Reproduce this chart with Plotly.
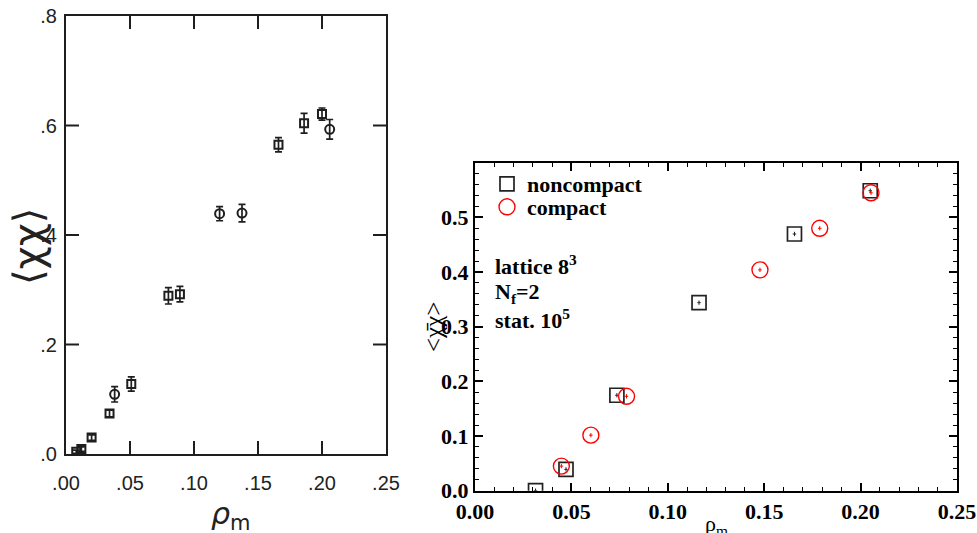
import plotly.graph_objects as go

# ---------------- Left panel (scanned, old data) ----------------
left_sq_x = [0.008, 0.012, 0.020, 0.034, 0.051, 0.080, 0.089, 0.166, 0.186, 0.200]
left_sq_y = [0.004, 0.009, 0.030, 0.074, 0.128, 0.289, 0.292, 0.565, 0.604, 0.621]
left_sq_err = [0.003, 0.004, 0.005, 0.006, 0.013, 0.015, 0.014, 0.013, 0.018, 0.011]

left_ci_x = [0.038, 0.120, 0.1375, 0.206]
left_ci_y = [0.109, 0.439, 0.440, 0.593]
left_ci_err = [0.014, 0.013, 0.016, 0.018]

left_xticks = [0.0, 0.05, 0.10, 0.15, 0.20, 0.25]
left_xlabels = [".00", ".05", ".10", ".15", ".20", ".25"]
left_yticks = [0.0, 0.2, 0.4, 0.6, 0.8]
left_ylabels = [".0", ".2", ".4", ".6", ".8"]

# ---------------- Right panel (new data) ----------------
nc_x = [0.0314, 0.0472, 0.0736, 0.1162, 0.1657, 0.2050]
nc_y = [0.000, 0.039, 0.1746, 0.344, 0.4696, 0.5487]
nc_yerr = [0.004, 0.004, 0.004, 0.004, 0.004, 0.004]
nc_xerr = [0.0009, 0.0009, 0.0009, 0.0009, 0.0009, 0.0009]

c_x = [0.0448, 0.0601, 0.0786, 0.1478, 0.1788, 0.2054]
c_y = [0.045, 0.1016, 0.1727, 0.404, 0.480, 0.545]
c_yerr = [0.004, 0.004, 0.004, 0.004, 0.004, 0.004]
c_xerr = [0.0009, 0.0009, 0.0009, 0.0009, 0.0009, 0.0009]

right_xticks = [0.0, 0.05, 0.10, 0.15, 0.20, 0.25]
right_xlabels = ["0.00", "0.05", "0.10", "0.15", "0.20", "0.25"]
right_yticks = [0.0, 0.1, 0.2, 0.3, 0.4, 0.5]
right_ylabels = ["0.0", "0.1", "0.2", "0.3", "0.4", "0.5"]

W, H = 977, 533
SCAN = "#1e1e1e"
SERIF = "Liberation Serif"
SANS = "Liberation Sans"

fig = go.Figure()

# left panel traces
fig.add_trace(go.Scatter(
    x=left_sq_x, y=left_sq_y, mode="markers", showlegend=False,
    marker=dict(symbol="square-open", size=8, color=SCAN, line=dict(width=2, color=SCAN)),
    error_y=dict(type="data", array=left_sq_err, color=SCAN, thickness=1.7, width=3.5),
    xaxis="x", yaxis="y"))
fig.add_trace(go.Scatter(
    x=left_ci_x, y=left_ci_y, mode="markers", showlegend=False,
    marker=dict(symbol="circle-open", size=9, color=SCAN, line=dict(width=2, color=SCAN)),
    error_y=dict(type="data", array=left_ci_err, color=SCAN, thickness=1.7, width=3.5),
    xaxis="x", yaxis="y"))

# right panel traces
fig.add_trace(go.Scatter(
    x=nc_x, y=nc_y, mode="markers", name="noncompact", legend="legend",
    marker=dict(symbol="square-open", size=14, color="#222222", line=dict(width=1.7, color="#222222")),
    error_y=dict(type="data", array=nc_yerr, color="#222222", thickness=1, width=0),
    error_x=dict(type="data", array=nc_xerr, color="#222222", thickness=1, width=0),
    xaxis="x2", yaxis="y2"))
fig.add_trace(go.Scatter(
    x=c_x, y=c_y, mode="markers", name="compact", legend="legend2",
    marker=dict(symbol="circle-open", size=16, color="#ff0000", line=dict(width=1.4, color="#ff0000")),
    error_y=dict(type="data", array=c_yerr, color="#ff0000", thickness=1, width=0),
    error_x=dict(type="data", array=c_xerr, color="#ff0000", thickness=1, width=0),
    xaxis="x2", yaxis="y2"))

L_x0, L_x1 = 66 / W, 386 / W
L_y0, L_y1 = (H - 454) / H, (H - 16) / H
R_x0, R_x1 = 475 / W, 957 / W
R_y0, R_y1 = (H - 490.7) / H, (H - 162.7) / H

# inward tick marks of the scanned left frame (all four sides)
L_w_px = (L_x1 - L_x0) * W
L_h_px = (L_y1 - L_y0) * H
tlen = 13
shapes = []
for t in left_xticks[1:-1]:
    shapes.append(dict(type="line", xref="x", yref="y domain", x0=t, x1=t, y0=0, y1=tlen / L_h_px,
                       line=dict(color=SCAN, width=2)))
    shapes.append(dict(type="line", xref="x", yref="y domain", x0=t, x1=t, y0=1, y1=1 - tlen / L_h_px,
                       line=dict(color=SCAN, width=2)))
for t in left_yticks[1:-1]:
    shapes.append(dict(type="line", xref="x domain", yref="y", x0=0, x1=tlen / L_w_px, y0=t, y1=t,
                       line=dict(color=SCAN, width=2)))
    shapes.append(dict(type="line", xref="x domain", yref="y", x0=1, x1=1 - tlen / L_w_px, y0=t, y1=t,
                       line=dict(color=SCAN, width=2)))

left_font = dict(family=SANS, size=20, color="#222222")
right_font = dict(family=SERIF, size=22, color="black", weight="bold")
legend_font = dict(family=SERIF, size=22, color="black", weight="bold")

fig.update_layout(
    width=W, height=H,
    margin=dict(l=0, r=0, t=0, b=0, autoexpand=False),
    paper_bgcolor="white", plot_bgcolor="white",
    shapes=shapes,
    xaxis=dict(domain=[L_x0, L_x1], range=[0, 0.25], anchor="y", automargin=False,
               showline=True, linecolor=SCAN, linewidth=2, mirror=True, ticks="",
               tickvals=left_xticks, ticktext=left_xlabels, tickfont=left_font,
               ticklabelstandoff=10, showgrid=False, zeroline=False),
    yaxis=dict(domain=[L_y0, L_y1], range=[0, 0.8], anchor="x", automargin=False,
               showline=True, linecolor=SCAN, linewidth=2, mirror=True, ticks="",
               tickvals=left_yticks, ticktext=left_ylabels, tickfont=left_font,
               ticklabelstandoff=3, showgrid=False, zeroline=False),
    xaxis2=dict(domain=[R_x0, R_x1], range=[0, 0.25], anchor="y2", automargin=False,
                showline=True, linecolor="black", linewidth=2, mirror="allticks",
                ticks="inside", ticklen=8, tickwidth=1.5, tickcolor="black",
                tickvals=right_xticks, ticktext=right_xlabels, tickfont=right_font,
                minor=dict(dtick=0.01, ticks="inside", ticklen=4, tickwidth=1.2, tickcolor="black"),
                showgrid=False, zeroline=False),
    yaxis2=dict(domain=[R_y0, R_y1], range=[0, 0.6], anchor="x2", automargin=False,
                showline=True, linecolor="black", linewidth=2, mirror="allticks",
                ticks="inside", ticklen=8, tickwidth=1.5, tickcolor="black",
                tickvals=right_yticks, ticktext=right_ylabels, tickfont=right_font,
                minor=dict(dtick=0.02, ticks="inside", ticklen=4, tickwidth=1.2, tickcolor="black"),
                showgrid=False, zeroline=False),
    legend=dict(x=487 / W, y=(H - 163) / H, xanchor="left", yanchor="top",
                bgcolor="rgba(0,0,0,0)", borderwidth=0, font=legend_font, itemwidth=30),
    legend2=dict(x=487 / W, y=(H - 186) / H, xanchor="left", yanchor="top",
                 bgcolor="rgba(0,0,0,0)", borderwidth=0, font=legend_font, itemwidth=30),
    annotations=[
        dict(text="⟨χχ⟩", x=28 / W, y=(H - 247) / H, xref="paper", yref="paper",
             showarrow=False, textangle=-90, xanchor="center", yanchor="middle",
             font=dict(family="DejaVu Sans", size=40, color="#222222")),
        dict(text="<i>ρ</i><sub>m</sub>", x=231 / W, y=(H - 515) / H, xref="paper", yref="paper",
             showarrow=False, xanchor="center", yanchor="middle",
             font=dict(family="DejaVu Sans", size=30, color="#222222")),
        dict(text="&lt;χ\u0304χ&gt;", x=433 / W, y=(H - 327) / H, xref="paper", yref="paper",
             showarrow=False, textangle=-90, xanchor="center", yanchor="middle",
             font=dict(family=SERIF, size=25, color="black")),
        dict(text="ρ<sub>m</sub>", x=716 / W, y=(H - 509) / H, xref="paper", yref="paper",
             showarrow=False, xanchor="center", yanchor="top",
             font=dict(family=SERIF, size=22, color="black")),
        dict(text="lattice 8<sup>3</sup>", x=493 / W, y=(H - 265) / H, xref="paper", yref="paper",
             showarrow=False, xanchor="left", yanchor="middle",
             font=dict(family=SERIF, size=22, color="black", weight="bold")),
        dict(text="N<sub>f</sub>=2", x=493 / W, y=(H - 293) / H, xref="paper", yref="paper",
             showarrow=False, xanchor="left", yanchor="middle",
             font=dict(family=SERIF, size=22, color="black", weight="bold")),
        dict(text="stat. 10<sup>5</sup>", x=493 / W, y=(H - 319) / H, xref="paper", yref="paper",
             showarrow=False, xanchor="left", yanchor="middle",
             font=dict(family=SERIF, size=22, color="black", weight="bold")),
    ],
)

fig.write_html("out.html")
